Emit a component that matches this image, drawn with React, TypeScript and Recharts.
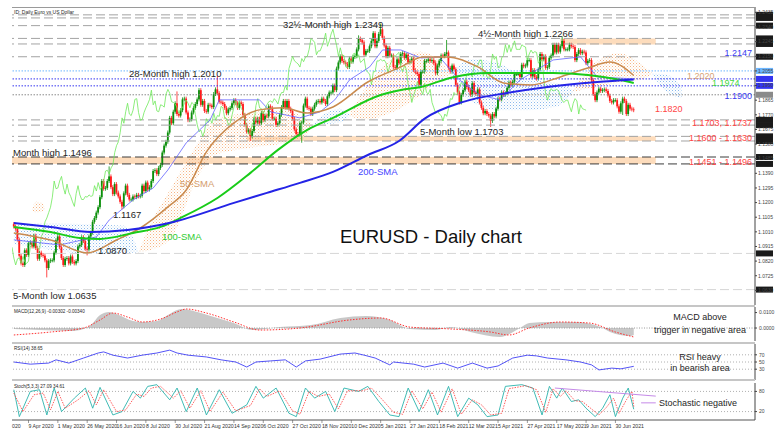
import React from 'react';
import {
  ComposedChart, Bar, Line, Area, XAxis, YAxis, ReferenceLine, ReferenceArea,
} from 'recharts';

const W = 775;
const FONT = '"Liberation Sans", Arial, sans-serif';

// daily closes 30 Mar 2020 .. 19 Jul 2021 (bar index 0..338)
const CLOSES = [
  1.1045, 1.1030,
  1.0960, 1.0855, 1.0805, 1.0795, 1.0890, 1.0860, 1.0935, 1.0940, 1.0915, 1.0985, 1.0905,
  1.0835, 1.0875, 1.0860, 1.0855, 1.0825, 1.0775, 1.0820, 1.0825, 1.0825, 1.0875, 1.0955,
  1.0980, 1.0910, 1.0840, 1.0795, 1.0835, 1.0840, 1.0805, 1.0850, 1.0815, 1.0805, 1.0820,
  1.0915, 1.0925, 1.0975, 1.0950, 1.0900, 1.0895, 1.0980, 1.1005, 1.1075, 1.1100,
  1.1135, 1.1170, 1.1235, 1.1340, 1.1290, 1.1295, 1.1340, 1.1370, 1.1300, 1.1255, 1.1320,
  1.1265, 1.1240, 1.1205, 1.1175, 1.1260, 1.1310, 1.1250, 1.1220, 1.1220, 1.1240, 1.1235,
  1.1250, 1.1240, 1.1245, 1.1310, 1.1275, 1.1330, 1.1285, 1.1300, 1.1340, 1.1405, 1.1410,
  1.1385, 1.1425, 1.1445, 1.1525, 1.1570, 1.1595, 1.1655, 1.1750, 1.1715, 1.1790, 1.1845, 1.1775,
  1.1765, 1.1800, 1.1870, 1.1875, 1.1785, 1.1735, 1.1740, 1.1785, 1.1815, 1.1840, 1.1870,
  1.1930, 1.1835, 1.1860, 1.1795, 1.1790, 1.1835, 1.1830, 1.1820, 1.1905, 1.1935,
  1.1910, 1.1855, 1.1850, 1.1840, 1.1815, 1.1780, 1.1805, 1.1815, 1.1845, 1.1865, 1.1845,
  1.1815, 1.1850, 1.1840, 1.1770, 1.1705, 1.1660, 1.1670, 1.1630, 1.1665, 1.1745, 1.1720,
  1.1745, 1.1715, 1.1780, 1.1735, 1.1765, 1.1760, 1.1825, 1.1815, 1.1745, 1.1745, 1.1705,
  1.1715, 1.1770, 1.1820, 1.1860, 1.1815, 1.1860, 1.1810, 1.1795, 1.1745, 1.1675, 1.1645,
  1.1640, 1.1715, 1.1720, 1.1830, 1.1875, 1.1815, 1.1810, 1.1775, 1.1810, 1.1835, 1.1855,
  1.1860, 1.1850, 1.1875, 1.1860, 1.1840, 1.1890, 1.1915, 1.1915, 1.1960, 1.1930,
  1.2070, 1.2110, 1.2150, 1.2120, 1.2110, 1.2100, 1.2080, 1.2135, 1.2115, 1.2145, 1.2150,
  1.2195, 1.2265, 1.2255, 1.2240, 1.2160, 1.2185, 1.2185, 1.2215, 1.2250, 1.2300, 1.2215,
  1.2250, 1.2295, 1.2325, 1.2270, 1.2220, 1.2150, 1.2205, 1.2155, 1.2155, 1.2080,
  1.2075, 1.2130, 1.2105, 1.2165, 1.2170, 1.2140, 1.2160, 1.2110, 1.2120, 1.2135,
  1.2060, 1.2045, 1.2035, 1.1965, 1.2050, 1.2050, 1.2120, 1.2120, 1.2130, 1.2120,
  1.2125, 1.2105, 1.2040, 1.2090, 1.2120, 1.2155, 1.2150, 1.2165, 1.2175, 1.2075,
  1.2050, 1.2090, 1.2065, 1.1965, 1.1915, 1.1850, 1.1900, 1.1930, 1.1985, 1.1950, 1.1930,
  1.1900, 1.1975, 1.1915, 1.1905, 1.1935, 1.1850, 1.1815, 1.1780, 1.1795, 1.1775, 1.1765, 1.1730,
  1.1775, 1.1760, 1.1810, 1.1875, 1.1870, 1.1915, 1.1900, 1.1910, 1.1945, 1.1980, 1.1965,
  1.1985, 1.2035, 1.2035, 1.2035, 1.2015, 1.2095, 1.2085, 1.2090, 1.2125, 1.2125, 1.2020,
  1.2060, 1.2015, 1.2005, 1.2065, 1.2165, 1.2130, 1.2150, 1.2075, 1.2080, 1.2140, 1.2155,
  1.2225, 1.2175, 1.2225, 1.2180, 1.2215, 1.2250, 1.2195, 1.2195, 1.2195, 1.2225,
  1.2215, 1.2210, 1.2125, 1.2165, 1.2190, 1.2170, 1.2180, 1.2175, 1.2105, 1.2120, 1.2125,
  1.1995, 1.1905, 1.1865, 1.1915, 1.1940, 1.1925, 1.1930, 1.1935, 1.1925, 1.1895, 1.1860,
  1.1850, 1.1865, 1.1865, 1.1825, 1.1790, 1.1845, 1.1875, 1.1860, 1.1775, 1.1835, 1.1810,
  1.1805, 1.1800,
];
const FIRST_OPEN = 1.1060;

// visible extremes (bar index, price)
const WICK_HIGHS: [number, number][] = [
  [52, 1.1422], [89, 1.1909], [111, 1.2011], [188, 1.2273], [200, 1.2349], [236, 1.2243], [299, 1.2266],
];
const WICK_LOWS: [number, number][] = [
  [18, 1.0727], [40, 1.0870], [59, 1.1168], [129, 1.1612], [157, 1.1602], [260, 1.1704], [332, 1.1782],
];

// moving averages (bar index, price)
const SMA50: [number, number][] = [
  [0, 1.1003], [20, 1.0957], [40, 1.0873], [56, 1.0957], [69, 1.1035], [84, 1.1172], [94, 1.1282],
  [105, 1.1529], [120, 1.1717], [134, 1.1802], [147, 1.1815], [160, 1.1782], [174, 1.1821],
  [193, 1.1983], [211, 1.2081], [223, 1.2146], [236, 1.2146], [253, 1.2081], [267, 1.1977],
  [282, 1.1964], [298, 1.2016], [313, 1.2074], [325, 1.2113], [338, 1.2025],
];
const SMA100: [number, number][] = [
  [0, 1.1042], [20, 1.1009], [36, 1.0970], [47, 1.0964], [65, 1.1003], [80, 1.1042], [92, 1.1107],
  [111, 1.1230], [129, 1.1393], [144, 1.1542], [160, 1.1672], [174, 1.1750], [200, 1.1899],
  [211, 1.1931], [222, 1.1951], [240, 1.2016], [258, 1.2042], [294, 1.2042], [313, 1.2029],
  [331, 1.1996], [338, 1.1977],
];
const SMA200: [number, number][] = [
  [0, 1.1068], [20, 1.1042], [42, 1.1009], [62, 1.1022], [87, 1.1074], [120, 1.1198], [138, 1.1263],
  [156, 1.1328], [174, 1.1399], [193, 1.1509], [210, 1.1600], [224, 1.1745], [245, 1.1854],
  [269, 1.1912], [291, 1.1951], [318, 1.1983], [338, 1.2000],
];
const KIJUN: [number, number][] = [
  [0, 1.0958], [25, 1.0925], [45, 1.0977], [52, 1.1087], [65, 1.1217], [76, 1.1295], [84, 1.1412],
  [94, 1.1588], [107, 1.1737], [112, 1.1867], [134, 1.1867], [140, 1.1789], [156, 1.1750],
  [167, 1.1789], [175, 1.1867], [183, 1.1996], [194, 1.2081], [201, 1.2191], [211, 1.2191],
  [222, 1.2139], [232, 1.2146], [243, 1.1996], [254, 1.1899], [265, 1.1867], [276, 1.1996],
  [294, 1.2126], [309, 1.2146], [318, 1.2016], [338, 1.2003],
];
const CHIKOU_SHIFT = 26;

// ichimoku cloud pieces (bar index, lower, upper)
const CLOUD_ORANGE: [number, number, number][][] = [
  [[10, 1.1150, 1.1155], [12, 1.1135, 1.1205], [15, 1.1140, 1.1200], [17, 1.1160, 1.1165]],
  [[68, 1.0878, 1.0882], [74, 1.0890, 1.1050], [85, 1.0960, 1.1280], [101, 1.1380, 1.1600],
    [108, 1.1500, 1.1720], [125, 1.1550, 1.1780], [145, 1.1580, 1.1800], [158, 1.1620, 1.1760], [163, 1.1700, 1.1705]],
  [[183, 1.1760, 1.1770], [192, 1.1740, 1.1950], [205, 1.1780, 1.2120], [222, 1.1900, 1.2180],
    [232, 1.2000, 1.2120], [238, 1.2030, 1.2040]],
  [[305, 1.1920, 1.1930], [318, 1.1950, 1.2120], [330, 1.1980, 1.2170], [342, 1.2000, 1.2100], [348, 1.2030, 1.2040]],
];
const CLOUD_BLUE: [number, number, number][][] = [
  [[0, 1.0930, 1.1050], [16, 1.0900, 1.1068], [40, 1.0870, 1.1060], [60, 1.0872, 1.1050], [68, 1.0878, 1.0882]],
  [[163, 1.1700, 1.1705], [170, 1.1710, 1.1780], [178, 1.1720, 1.1810], [183, 1.1760, 1.1770]],
  [[238, 1.2030, 1.2040], [250, 1.1850, 1.2130], [265, 1.1800, 1.2100], [280, 1.1800, 1.2000],
    [295, 1.1820, 1.1980], [305, 1.1920, 1.1930]],
  [[348, 1.2030, 1.2040], [356, 1.1920, 1.2030], [364, 1.1880, 1.1960]],
];

// horizontal levels
const LEVELS_GRAY = [1.2419, 1.2399, 1.2349, 1.2266, 1.2230, 1.2147, 1.1737, 1.1703, 1.1630, 1.1600];
const LEVELS_DARK = [1.1496, 1.1451];
const LEVELS_FAINT = [1.0870, 1.0635];
const LEVELS_DOTTED = [1.2055, 1.2003, 1.1958, 1.1900];
const DOTTED_COLORS = ['#6cb6ff', '#3434f0', '#3434f0', '#8a8a8a'];
const BANDS: [number, number][] = [[1.2226, 1.2266], [1.1600, 1.1630], [1.1451, 1.1496]];
const BAND_FROM = [298, 127, -1];
const BAND_TO = 350;

const PRICE_TICKS = [
  1.0630, 1.0725, 1.0820, 1.0915, 1.1010, 1.1105, 1.1200, 1.1295, 1.1390, 1.1485,
  1.1580, 1.1675, 1.1770, 1.1865, 1.1960, 1.2055, 1.2150, 1.2245, 1.2340, 1.2435,
];
const DATE_TICKS = [8, 24, 40, 56, 72, 88, 104, 120, 136, 152, 168, 184, 200, 216, 232, 248, 264, 280, 296, 312, 328];
const DATE_LABELS = [
  '9 Apr 2020', '1 May 2020', '26 May 2020', '16 Jun 2020', '8 Jul 2020', '30 Jul 2020', '21 Aug 2020',
  '14 Sep 2020', '6 Oct 2020', '27 Oct 2020', '18 Nov 2020', '10 Dec 2020', '5 Jan 2021', '27 Jan 2021',
  '18 Feb 2021', '12 Mar 2021', '5 Apr 2021', '27 Apr 2021', '17 May 2021', '9 Jun 2021', '30 Jun 2021',
];

// oscillators (bar index, value)
const MACD_MAIN: [number, number][] = [
  [0, -0.0006], [14, -0.0013], [31, -0.0019], [38, -0.0006], [42, 0.0019], [47, 0.0084], [52, 0.0104],
  [56, 0.0091], [65, 0.0045], [70, 0.0039], [78, 0.0045], [84, 0.0084], [89, 0.0117], [92, 0.0123],
  [102, 0.0097], [111, 0.0065], [120, 0.0032], [130, -0.0013], [145, 0.0006], [162, 0.0019],
  [178, 0.0065], [192, 0.0078], [205, 0.0052], [216, -0.0006], [230, -0.0013], [238, 0.0006],
  [249, -0.0026], [265, -0.0058], [276, 0.0000], [281, 0.0032], [292, 0.0039], [306, 0.0039],
  [320, 0.0006], [325, -0.0026], [336, -0.0052], [338, -0.0045],
];
const MACD_SIGNAL: [number, number][] = [
  [0, -0.0045], [20, -0.0026], [38, 0.0000], [47, 0.0052], [54, 0.0097], [62, 0.0071], [70, 0.0039],
  [80, 0.0058], [89, 0.0104], [94, 0.0123], [105, 0.0097], [120, 0.0039], [134, -0.0013],
  [156, 0.0000], [183, 0.0052], [200, 0.0065], [216, 0.0006], [238, -0.0006], [260, -0.0026],
  [270, -0.0045], [281, 0.0000], [298, 0.0039], [314, 0.0032], [328, -0.0026], [338, -0.0058],
];
const RSI: [number, number][] = [
  [0, 50], [9, 44], [19, 47], [23, 56], [30, 47], [38, 61], [46, 75], [49, 78], [54, 69], [62, 61],
  [70, 69], [78, 75], [85, 83], [89, 75], [95, 69], [105, 64], [113, 56], [121, 50], [127, 36],
  [132, 50], [140, 53], [148, 56], [154, 36], [159, 53], [167, 58], [178, 72], [186, 75], [191, 69],
  [197, 61], [205, 42], [207, 50], [218, 44], [224, 36], [234, 47], [242, 33], [250, 47], [258, 33],
  [264, 39], [272, 61], [280, 69], [285, 67], [291, 61], [301, 56], [309, 50], [315, 42], [319, 28],
  [326, 33], [331, 31], [336, 36], [338, 38],
];
const STOCH_MAIN: [number, number][] = [
  [0, 85], [3, 5], [9, 80], [14, 85], [18, 10], [22, 90], [26, 20], [33, 60], [39, 90], [43, 30],
  [47, 92], [54, 10], [59, 20], [65, 80], [69, 60], [73, 95], [78, 100], [85, 55], [89, 90], [94, 20],
  [100, 90], [105, 10], [112, 85], [119, 15], [127, 40], [132, 95], [136, 60], [143, 90], [150, 15],
  [154, 5], [159, 90], [164, 60], [170, 80], [175, 20], [180, 90], [188, 80], [193, 95], [199, 50],
  [205, 10], [210, 5], [215, 90], [221, 20], [226, 85], [231, 10], [237, 95], [242, 5], [248, 60],
  [253, 40], [258, 5], [264, 10], [268, 95], [277, 100], [283, 90], [288, 10], [292, 95], [296, 60],
  [299, 90], [304, 50], [308, 55], [312, 30], [317, 5], [321, 30], [325, 70], [328, 5], [332, 60],
  [335, 90], [338, 27],
];
const STOCH_SIGNAL: [number, number][] = [
  [0, 75], [5, 20], [11, 70], [16, 75], [20, 25], [24, 80], [28, 30], [35, 55], [41, 82], [45, 40],
  [49, 85], [56, 20], [61, 25], [67, 72], [71, 65], [75, 90], [80, 95], [87, 60], [91, 82], [96, 30],
  [102, 82], [107, 20], [114, 78], [121, 22], [129, 38], [134, 88], [138, 65], [145, 82], [152, 22],
  [156, 12], [161, 80], [166, 65], [172, 72], [177, 28], [182, 82], [190, 82], [195, 90], [201, 55],
  [207, 18], [212, 12], [217, 82], [223, 28], [228, 78], [233, 18], [239, 88], [244, 12], [250, 55],
  [255, 40], [260, 10], [266, 15], [270, 88], [279, 97], [285, 85], [290, 18], [294, 88], [298, 65],
  [301, 82], [306, 52], [310, 50], [314, 32], [319, 10], [323, 32], [327, 60], [330, 15], [334, 55],
  [337, 80], [338, 35],
];
const STOCH_TREND: [number, number][] = [[295, 90], [350, 66]];
const STOCH_TREND2: [number, number][] = [[342, 46], [350, 46]];

const X_DOMAIN: [number, number] = [-1, 404.1];
const PRICE_DOMAIN: [number, number] = [1.0535, 1.2470];

const pts = (a: [number, number][]) => a.map(([i, v]) => ({ i, v }));
const hiMap = new Map(WICK_HIGHS);
const loMap = new Map(WICK_LOWS);
const candles = CLOSES.map((c, i) => {
  const o = i === 0 ? FIRST_OPEN : CLOSES[i - 1];
  const hi = hiMap.get(i) ?? Math.max(o, c);
  const lo = loMap.get(i) ?? Math.min(o, c);
  return { i, o, c, range: [lo, hi] };
});
const chikou = CLOSES.map((c, i) => ({ i: i - CHIKOU_SHIFT, v: c })).filter((p) => p.i >= -1);
const cloud = (seg: [number, number, number][]) => seg.map(([i, lo, hi]) => ({ i, r: [lo, hi] }));

const Candle = (props: any) => {
  const { x, y, width, height, payload } = props;
  if (x == null || y == null || !payload) return null;
  const { o, c, range } = payload;
  const [lo, hi] = range;
  const top = Math.min(y, y + height);
  const h = Math.abs(height);
  const cx = x + width / 2;
  const k = hi > lo ? h / (hi - lo) : 0;
  const bTop = top + (hi - Math.max(o, c)) * k;
  const bH = Math.max(Math.abs(o - c) * k, 0.8);
  const color = c >= o ? '#0a8f0a' : '#ff1a1a';
  return (
    <g>
      <line x1={cx} x2={cx} y1={top - 2} y2={top + h + 2} stroke={color} strokeWidth={0.8} />
      <rect x={cx - 0.9} y={bTop} width={1.8} height={bH} fill={color} />
    </g>
  );
};

const tag = (fill: string) => (p: any) => {
  const vb = p.viewBox || {};
  if (vb.x == null) return null;
  return <rect x={vb.x + vb.width + 1} y={vb.y - 3} width={17} height={6} fill={fill} />;
};

const f4 = (v: number) => v.toFixed(4);

const DateTick = (props: any) => {
  const { x, y, payload } = props;
  const idx = DATE_TICKS.indexOf(payload.value);
  return (
    <g>
      <line x1={x} x2={x} y1={y - 2} y2={y + 1} stroke="#555" strokeWidth={0.6} />
      <text x={x} y={y + 5.5} fontSize={5.2} fill="#333" fontFamily={FONT} textAnchor="start">
        {DATE_LABELS[idx]}
      </text>
    </g>
  );
};

const smallTick = { fontSize: 5, fill: '#444', fontFamily: FONT };

function MainPanel() {
  return (
    <ComposedChart width={W} height={305} data={candles} margin={{ top: 7, right: 0, bottom: 0, left: 12 }}>
      <defs>
        <pattern id="dotOrange" width="3" height="3" patternUnits="userSpaceOnUse">
          <rect x="0" y="0" width="1" height="1" fill="#f3a66c" />
          <rect x="1.5" y="1.5" width="1" height="1" fill="#f8c9a4" />
        </pattern>
        <pattern id="dotBlue" width="3" height="3" patternUnits="userSpaceOnUse">
          <rect x="0" y="0" width="1" height="1" fill="#76ade8" />
          <rect x="1.5" y="1.5" width="1" height="1" fill="#b3d3f3" />
        </pattern>
      </defs>
      <XAxis type="number" dataKey="i" domain={X_DOMAIN} hide allowDataOverflow />
      <YAxis
        orientation="right" width={20} domain={PRICE_DOMAIN} allowDataOverflow ticks={PRICE_TICKS}
        interval={0} tick={smallTick} tickFormatter={f4} tickSize={2} tickMargin={1}
        axisLine={{ stroke: '#444' }} tickLine={{ stroke: '#444' }}
      />
      {BANDS.map(([a, b], k) => (
        <ReferenceArea key={`band${k}`} x1={BAND_FROM[k]} x2={BAND_TO} y1={a} y2={b}
          fill="#fddcbc" fillOpacity={1} stroke="none" ifOverflow="hidden" />
      ))}
      {CLOUD_ORANGE.map((seg, k) => (
        <Area key={`co${k}`} data={cloud(seg)} dataKey="r" type="monotone" stroke="none"
          fill="url(#dotOrange)" fillOpacity={0.85} isAnimationActive={false} />
      ))}
      {CLOUD_BLUE.map((seg, k) => (
        <Area key={`cb${k}`} data={cloud(seg)} dataKey="r" type="monotone" stroke="none"
          fill="url(#dotBlue)" fillOpacity={0.85} isAnimationActive={false} />
      ))}
      {LEVELS_GRAY.map((v) => (
        <ReferenceLine key={`g${v}`} y={v} stroke="#a3a3a3" strokeDasharray="9 4" strokeWidth={1}
          ifOverflow="hidden" label={tag('#1a1a1a')} />
      ))}
      {LEVELS_DARK.map((v) => (
        <ReferenceLine key={`d${v}`} y={v} stroke="#3c3c3c" strokeDasharray="9 4" strokeWidth={1}
          ifOverflow="hidden" label={tag('#1a1a1a')} />
      ))}
      {LEVELS_FAINT.map((v) => (
        <ReferenceLine key={`f${v}`} y={v} stroke="#d6d6d6" strokeDasharray="9 4" strokeWidth={1}
          ifOverflow="hidden" label={tag('#1a1a1a')} />
      ))}
      {LEVELS_DOTTED.map((v, k) => (
        <ReferenceLine key={`o${v}`} y={v} stroke={DOTTED_COLORS[k]} strokeDasharray="1.5 1.5" strokeWidth={1}
          ifOverflow="hidden" label={tag(DOTTED_COLORS[k])} />
      ))}
      <Bar dataKey="range" shape={Candle} barSize={2} isAnimationActive={false} />
      <Line data={chikou} dataKey="v" type="linear" stroke="#6ee85a" strokeWidth={0.8} dot={false} isAnimationActive={false} />
      <Line data={pts(KIJUN)} dataKey="v" type="linear" stroke="#6262ff" strokeWidth={0.8} dot={false} isAnimationActive={false} />
      <Line data={pts(SMA50)} dataKey="v" type="monotone" stroke="#c98a4e" strokeWidth={1.5} dot={false} isAnimationActive={false} />
      <Line data={pts(SMA100)} dataKey="v" type="monotone" stroke="#19cc19" strokeWidth={2} dot={false} isAnimationActive={false} />
      <Line data={pts(SMA200)} dataKey="v" type="monotone" stroke="#2424e6" strokeWidth={2} dot={false} isAnimationActive={false} />
    </ComposedChart>
  );
}

function MacdPanel() {
  return (
    <ComposedChart width={W} height={38} margin={{ top: 2, right: 0, bottom: 2, left: 12 }}>
      <XAxis type="number" dataKey="i" domain={X_DOMAIN} hide allowDataOverflow />
      <YAxis orientation="right" width={20} domain={[-0.0084, 0.0136]} allowDataOverflow
        ticks={[0.0100, 0]} interval={0} tick={smallTick} tickFormatter={f4} tickSize={2}
        axisLine={{ stroke: '#444' }} tickLine={{ stroke: '#444' }} />
      <ReferenceLine y={0} stroke="#9a9a9a" strokeDasharray="1 1.5" />
      <Area data={pts(MACD_MAIN)} dataKey="v" type="monotone" baseValue={0} stroke="none"
        fill="#c8c8c8" fillOpacity={1} isAnimationActive={false} />
      <Line data={pts(MACD_SIGNAL)} dataKey="v" type="monotone" stroke="#ff2f2f" strokeWidth={1}
        strokeDasharray="1.5 1.5" dot={false} isAnimationActive={false} />
    </ComposedChart>
  );
}

function RsiPanel() {
  return (
    <ComposedChart width={W} height={37} margin={{ top: 1, right: 0, bottom: 0, left: 12 }}>
      <XAxis type="number" dataKey="i" domain={X_DOMAIN} hide allowDataOverflow />
      <YAxis orientation="right" width={20} domain={[0, 100]} allowDataOverflow
        ticks={[70, 50, 30]} interval={0} tick={smallTick} tickSize={2}
        axisLine={{ stroke: '#444' }} tickLine={{ stroke: '#444' }} />
      {[70, 50, 30].map((v) => (
        <ReferenceLine key={v} y={v} stroke="#b0b0b0" strokeDasharray="1 2" />
      ))}
      <Line data={pts(RSI)} dataKey="v" type="linear" stroke="#3f3ff5" strokeWidth={0.9} dot={false} isAnimationActive={false} />
    </ComposedChart>
  );
}

function StochPanel() {
  return (
    <ComposedChart width={W} height={58} margin={{ top: 3, right: 0, bottom: 0, left: 12 }}>
      <XAxis type="number" dataKey="i" domain={X_DOMAIN} allowDataOverflow ticks={DATE_TICKS} interval={0}
        height={18} tickSize={0} tickMargin={2} tick={<DateTick />} axisLine={{ stroke: '#555' }} />
      <YAxis orientation="right" width={20} domain={[-5, 105]} allowDataOverflow
        ticks={[80, 20]} interval={0} tick={smallTick} tickSize={2}
        axisLine={{ stroke: '#444' }} tickLine={{ stroke: '#444' }} />
      {[80, 20].map((v) => (
        <ReferenceLine key={v} y={v} stroke="#b0b0b0" strokeDasharray="1 2" />
      ))}
      <Line data={pts(STOCH_MAIN)} dataKey="v" type="linear" stroke="#2bb3ad" strokeWidth={0.9} dot={false} isAnimationActive={false} />
      <Line data={pts(STOCH_SIGNAL)} dataKey="v" type="linear" stroke="#ff4a4a" strokeWidth={0.9}
        strokeDasharray="1.5 1.2" dot={false} isAnimationActive={false} />
      <Line data={pts(STOCH_TREND)} dataKey="v" type="linear" stroke="#c58ae8" strokeWidth={1} dot={false} isAnimationActive={false} />
      <Line data={pts(STOCH_TREND2)} dataKey="v" type="linear" stroke="#c58ae8" strokeWidth={1} dot={false} isAnimationActive={false} />
    </ComposedChart>
  );
}

const T = (p: { x: number; y: number; c?: string; s?: number; a?: 'start' | 'middle' | 'end'; children: React.ReactNode }) => (
  <text x={p.x} y={p.y} fill={p.c || '#262626'} fontSize={p.s || 9.5} textAnchor={p.a || 'start'} fontFamily={FONT}>
    {p.children}
  </text>
);

function Overlay() {
  return (
    <svg width={W} height={438} style={{ position: 'absolute', left: 0, top: 0, pointerEvents: 'none' }}>
      <line x1={12} x2={755} y1={7.5} y2={7.5} stroke="#9a9a9a" strokeWidth={1} />
      <rect x={12} y={305} width={743} height={2} fill="#c6c6c6" />
      <rect x={12} y={342} width={743} height={2} fill="#c6c6c6" />
      <rect x={12} y={379} width={743} height={2} fill="#c6c6c6" />
      <T x={14} y={14} s={5}>ID: Daily  Euro vs US Dollar</T>
      <T x={283} y={27.5}>32½-Month high 1.2349</T>
      <T x={478} y={36.5}>4½-Month high 1.2266</T>
      <T x={129} y={76.5}>28-Month high 1.2010</T>
      <T x={752} y={55.5} a="end" c="#3a3af0" s={9}>1.2147</T>
      <T x={687} y={78.5} c="#d8a477" s={9}>1.2020</T>
      <T x={712} y={86} c="#3fd83f" s={9}>1.1974</T>
      <T x={752} y={98.5} a="end" c="#3a3af0" s={9}>1.1900</T>
      <T x={655} y={111.5} c="#ff4545" s={9}>1.1820</T>
      <T x={752} y={125.5} a="end" c="#ff4545" s={9}>1.1703, 1.1737</T>
      <T x={420} y={134.5}>5-Month low 1.1703</T>
      <T x={752} y={140.5} a="end" c="#ff4545" s={9}>1.1600 - 1.1630</T>
      <T x={13} y={155.5}>Month high 1.1496</T>
      <T x={752} y={164.5} a="end" c="#ff4545" s={9}>1.1451 - 1.1496</T>
      <T x={358} y={174.5} c="#4343ff">200-SMA</T>
      <T x={180} y={186.5} c="#d49c6c">50-SMA</T>
      <T x={113} y={217.5}>1.1167</T>
      <T x={162} y={239.5} c="#2fcc2f">100-SMA</T>
      <T x={340} y={243} s={18.5} c="#111">EURUSD - Daily chart</T>
      <T x={98} y={253.5}>1.0870</T>
      <T x={13} y={298.5}>5-Month low 1.0635</T>
      <T x={14} y={313} s={4.6}>MACD(12,26,9) -0.00302 -0.00340</T>
      <T x={700} y={320} a="middle" s={9}>MACD above</T>
      <T x={700} y={333} a="middle" s={9}>trigger in negative area</T>
      <T x={14} y={350} s={4.6}>RSI(14) 38.65</T>
      <T x={700} y={360} a="middle" s={9}>RSI heavy</T>
      <T x={700} y={371} a="middle" s={9}>in bearish area</T>
      <T x={14} y={388} s={4.6}>Stoch(5,3,3) 27.09 34.61</T>
      <T x={698} y={406} a="middle" s={9}>Stochastic negative</T>
      <T x={12} y={427.5} s={5.2} c="#333">020</T>
    </svg>
  );
}

export default function App() {
  return (
    <div style={{ position: 'absolute', left: 0, top: 0, width: W, height: 438, background: '#fff', overflow: 'hidden', fontFamily: FONT }}>
      <div style={{ position: 'absolute', left: 0, top: 0 }}><MainPanel /></div>
      <div style={{ position: 'absolute', left: 0, top: 305 }}><MacdPanel /></div>
      <div style={{ position: 'absolute', left: 0, top: 343 }}><RsiPanel /></div>
      <div style={{ position: 'absolute', left: 0, top: 380 }}><StochPanel /></div>
      <Overlay />
    </div>
  );
}
